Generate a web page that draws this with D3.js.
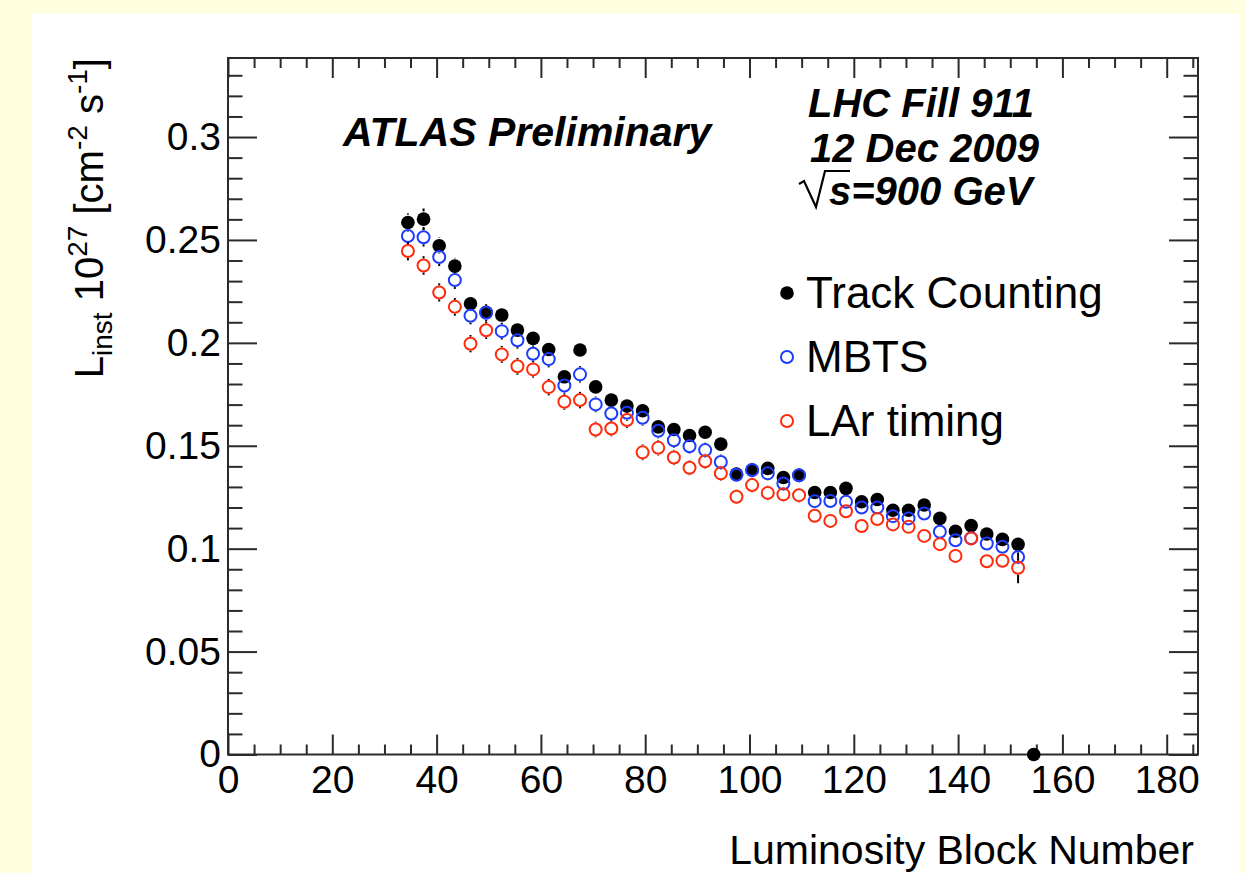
<!DOCTYPE html>
<html>
<head>
<meta charset="utf-8">
<script src="https://cdn.jsdelivr.net/npm/d3@7"></script>
<style>
  html, body { margin: 0; padding: 0; background: #ffffe0; }
  svg { display: block; font-family: "Liberation Sans", Arial, Helvetica, sans-serif; }
</style>
</head>
<body>
<svg id="chart" width="1246" height="873"></svg>
<script>
// Luminosity block centres
const lumiBlocks = [34.5, 37.5, 40.5, 43.5, 46.5, 49.5, 52.5, 55.5, 58.5, 61.5,
  64.5, 67.5, 70.5, 73.5, 76.5, 79.5, 82.5, 85.5, 88.5, 91.5,
  94.5, 97.5, 100.5, 103.5, 106.5, 109.5, 112.5, 115.5, 118.5, 121.5,
  124.5, 127.5, 130.5, 133.5, 136.5, 139.5, 142.5, 145.5, 148.5, 151.5, 154.5];

// Instantaneous luminosity, 10^27 cm^-2 s^-1
const trackCounting = [0.2585, 0.2601, 0.2472, 0.2373, 0.2190, 0.2148, 0.2135, 0.2062, 0.2022, 0.1968,
  0.1835, 0.1965, 0.1786, 0.1722, 0.1693, 0.1670, 0.1592, 0.1579, 0.1550, 0.1566,
  0.1508, 0.1362, 0.1382, 0.1390, 0.1346, 0.1357, 0.1273, 0.1273, 0.1293, 0.1228,
  0.1239, 0.1187, 0.1187, 0.1212, 0.1147, 0.1085, 0.1112, 0.1071, 0.1045, 0.1021, 0];
const trackCountingErr = [0.0044, 0.0052, 0.0040, 0.0040, 0.0038, 0.0038, 0.0038, 0.0036, 0.0036, 0.0036,
  0.0035, 0.0036, 0.0034, 0.0034, 0.0034, 0.0033, 0.0033, 0.0033, 0.0032, 0.0032,
  0.0032, 0.0030, 0.0030, 0.0030, 0.0030, 0.0030, 0.0029, 0.0029, 0.0029, 0.0028,
  0.0028, 0.0028, 0.0028, 0.0028, 0.0027, 0.0026, 0.0027, 0.0026, 0.0026, 0.0026, 0];

const mbts = [0.2519, 0.2513, 0.2417, 0.2305, 0.2132, 0.2146, 0.2057, 0.2013, 0.1947, 0.1921,
  0.1793, 0.1847, 0.1701, 0.1657, 0.1660, 0.1636, 0.1573, 0.1527, 0.1498, 0.1479,
  0.1421, 0.1359, 0.1382, 0.1366, 0.1317, 0.1357, 0.1231, 0.1232, 0.1228, 0.1200,
  0.1200, 0.1158, 0.1147, 0.1171, 0.1082, 0.1041, 0.1051, 0.1025, 0.1009, 0.0960];
const mbtsErr = [0.0045, 0.0045, 0.0044, 0.0043, 0.0042, 0.0042, 0.0041, 0.0041, 0.0040, 0.0040,
  0.0039, 0.0040, 0.0038, 0.0038, 0.0038, 0.0038, 0.0037, 0.0037, 0.0036, 0.0036,
  0.0036, 0.0035, 0.0035, 0.0035, 0.0035, 0.0035, 0.0034, 0.0034, 0.0034, 0.0034,
  0.0034, 0.0033, 0.0033, 0.0033, 0.0033, 0.0032, 0.0032, 0.0032, 0.0032, 0.0031];

const larTiming = [0.2446, 0.2376, 0.2245, 0.2175, 0.1996, 0.2061, 0.1944, 0.1886, 0.1871, 0.1785,
  0.1714, 0.1722, 0.1579, 0.1584, 0.1625, 0.1468, 0.1490, 0.1443, 0.1393, 0.1425,
  0.1366, 0.1252, 0.1309, 0.1271, 0.1264, 0.1260, 0.1160, 0.1135, 0.1182, 0.1110,
  0.1144, 0.1118, 0.1106, 0.1062, 0.1022, 0.0965, 0.1050, 0.0939, 0.0941, 0.0907];
const larTimingErr = [0.0045, 0.0045, 0.0044, 0.0043, 0.0042, 0.0042, 0.0041, 0.0041, 0.0040, 0.0040,
  0.0039, 0.0040, 0.0038, 0.0038, 0.0038, 0.0038, 0.0037, 0.0037, 0.0036, 0.0036,
  0.0036, 0.0035, 0.0035, 0.0035, 0.0035, 0.0035, 0.0034, 0.0034, 0.0034, 0.0034,
  0.0034, 0.0033, 0.0033, 0.0033, 0.0033, 0.0032, 0.0032, 0.0032, 0.0032, 0.0075];

const seriesNames = ["Track Counting", "MBTS", "LAr timing"];
const xTickValues = [0, 20, 40, 60, 80, 100, 120, 140, 160, 180];
const yTickValues = [0, 0.05, 0.1, 0.15, 0.2, 0.25, 0.3];
const xDomain = [0, 186];
const yDomain = [0, 0.3384];

const svg = d3.select("#chart");
const W = 1246, H = 873;
const frame = { left: 228, right: 1198, top: 58, bottom: 754.5 };
const axisColor = "#2b2b2b";

svg.append("rect").attr("width", W).attr("height", H).attr("fill", "#ffffe0");
svg.append("rect").attr("x", 32).attr("y", 14).attr("width", 1208).attr("height", H - 14).attr("fill", "#ffffff");

const x = d3.scaleLinear().domain(xDomain).range([frame.left, frame.right]);
const y = d3.scaleLinear().domain(yDomain).range([frame.bottom, frame.top]);

const xMinor = d3.range(0, xDomain[1] + 0.001, 5).filter(v => v % 20 !== 0);
const yMinor = d3.range(0, 34).map(i => i / 100).filter(v => v <= yDomain[1] && Math.round(v * 100) % 5 !== 0);

function styleAxis(g) {
  g.select(".domain").remove();
  g.selectAll(".tick line").attr("stroke", axisColor).attr("stroke-width", 2);
  g.selectAll("text").attr("fill", "#000").style("font-size", "39px")
    .style("font-family", '"Liberation Sans", Arial, Helvetica, sans-serif');
  g.attr("font-size", null).attr("font-family", null);
}

const fmtY = d => d === 0 ? "0" : String(+d.toFixed(2));

// bottom axis
svg.append("g").attr("transform", `translate(0,${frame.bottom})`)
  .call(d3.axisBottom(x).tickValues(xTickValues).tickSize(-20).tickPadding(11).tickFormat(d3.format("d")))
  .call(styleAxis);
svg.append("g").attr("transform", `translate(0,${frame.bottom})`)
  .call(d3.axisBottom(x).tickValues(xMinor).tickSize(-10).tickFormat(""))
  .call(styleAxis);
// top axis
svg.append("g").attr("transform", `translate(0,${frame.top})`)
  .call(d3.axisTop(x).tickValues(xTickValues).tickSize(-20).tickFormat(""))
  .call(styleAxis);
svg.append("g").attr("transform", `translate(0,${frame.top})`)
  .call(d3.axisTop(x).tickValues(xMinor).tickSize(-10).tickFormat(""))
  .call(styleAxis);
// left axis
svg.append("g").attr("transform", `translate(${frame.left},0)`)
  .call(d3.axisLeft(y).tickValues(yTickValues).tickSize(-29).tickPadding(7).tickFormat(fmtY))
  .call(styleAxis);
svg.append("g").attr("transform", `translate(${frame.left},0)`)
  .call(d3.axisLeft(y).tickValues(yMinor).tickSize(-14.5).tickFormat(""))
  .call(styleAxis);
// right axis
svg.append("g").attr("transform", `translate(${frame.right},0)`)
  .call(d3.axisRight(y).tickValues(yTickValues).tickSize(-29).tickFormat(""))
  .call(styleAxis);
svg.append("g").attr("transform", `translate(${frame.right},0)`)
  .call(d3.axisRight(y).tickValues(yMinor).tickSize(-14.5).tickFormat(""))
  .call(styleAxis);

// frame
svg.append("rect")
  .attr("x", frame.left).attr("y", frame.top)
  .attr("width", frame.right - frame.left).attr("height", frame.bottom - frame.top)
  .attr("fill", "none").attr("stroke", axisColor).attr("stroke-width", 2);

// data series: error bars first, markers on top; later series overlay earlier ones
const series = [
  { name: seriesNames[0], values: trackCounting, errors: trackCountingErr, fill: "#000", stroke: "none", r: 6.8 },
  { name: seriesNames[1], values: mbts, errors: mbtsErr, fill: "none", stroke: "#1e3cff", r: 6 },
  { name: seriesNames[2], values: larTiming, errors: larTimingErr, fill: "none", stroke: "#ff2a0a", r: 6 }
];

const plot = svg.append("g");
series.forEach(s => {
  const pts = s.values.map((v, i) => ({ lb: lumiBlocks[i], v, e: s.errors[i] }));
  const g = plot.append("g");
  const gap = s.r + 1;
  pts.forEach(p => {
    const cy = y(p.v), top = y(p.v + p.e), bot = y(p.v - p.e), cx = x(p.lb);
    if (cy - gap > top) {
      g.append("line").attr("x1", cx).attr("x2", cx).attr("y1", top).attr("y2", cy - gap)
        .attr("stroke", "#000").attr("stroke-width", 2);
    }
    if (bot > cy + gap) {
      g.append("line").attr("x1", cx).attr("x2", cx).attr("y1", cy + gap).attr("y2", bot)
        .attr("stroke", "#000").attr("stroke-width", 2);
    }
  });
  g.selectAll("circle").data(pts).join("circle")
    .attr("cx", d => x(d.lb)).attr("cy", d => y(d.v)).attr("r", s.r)
    .attr("fill", s.fill).attr("stroke", s.stroke).attr("stroke-width", 2);
});

// legend
const legend = svg.append("g");
series.forEach((s, i) => {
  const ly = 293 + i * 64;
  legend.append("circle").attr("cx", 787).attr("cy", ly).attr("r", s.r)
    .attr("fill", s.fill).attr("stroke", s.stroke).attr("stroke-width", 2);
  legend.append("text").attr("x", 806).attr("y", ly + 15).attr("font-size", 44).attr("fill", "#000")
    .text(s.name);
});

// experiment label and run information
svg.append("text").attr("x", 343).attr("y", 146)
  .attr("font-size", 41).attr("font-weight", "bold").attr("font-style", "italic")
  .text("ATLAS Preliminary");

const info = svg.append("g").attr("font-size", 40).attr("font-weight", "bold").attr("font-style", "italic");
info.append("text").attr("x", 808).attr("y", 117).text("LHC Fill 911");
info.append("text").attr("x", 810).attr("y", 162).text("12 Dec 2009");
info.append("text").attr("x", 829).attr("y", 205).text("s=900 GeV");
info.append("path")
  .attr("d", "M799,184 L804,181 L816,207 L825,171 L850,171")
  .attr("fill", "none").attr("stroke", "#000").attr("stroke-width", 2.2);

// axis titles
svg.append("text").attr("x", 1194).attr("y", 864).attr("text-anchor", "end")
  .attr("font-size", 41).text("Luminosity Block Number");

const yTitle = svg.append("text")
  .attr("transform", "translate(103,58) rotate(-90)")
  .attr("text-anchor", "end").attr("font-size", 40);
yTitle.append("tspan").text("L");
yTitle.append("tspan").attr("font-size", 28).attr("dy", 9).text("inst");
yTitle.append("tspan").attr("dy", -9).text(" 10");
yTitle.append("tspan").attr("font-size", 28).attr("dy", -16).text("27");
yTitle.append("tspan").attr("dy", 16).text(" [cm");
yTitle.append("tspan").attr("font-size", 28).attr("dy", -16).text("-2");
yTitle.append("tspan").attr("dy", 16).text(" s");
yTitle.append("tspan").attr("font-size", 28).attr("dy", -16).text("-1");
yTitle.append("tspan").attr("dy", 16).text("]");
</script>
</body>
</html>
